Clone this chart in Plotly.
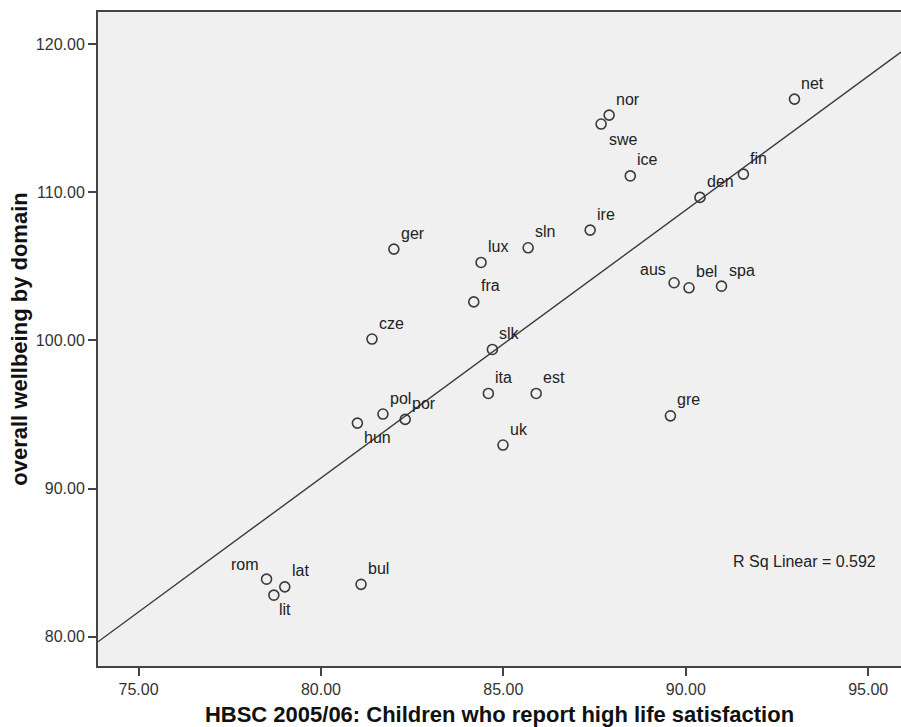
import numpy as np
import plotly.graph_objects as go

# ---- data ----
countries = ["ger", "lux", "sln", "ire", "fra", "swe", "nor", "ice", "den", "fin",
             "net", "aus", "bel", "spa", "cze", "slk", "ita", "est", "pol", "por",
             "hun", "uk", "rom", "lat", "lit", "bul", "gre"]
life_satisfaction = [82.0, 84.39, 85.68, 87.38, 84.19, 87.68, 87.90, 88.48, 90.39, 91.58,
                     92.98, 89.68, 90.09, 90.98, 81.40, 84.70, 84.59, 85.90, 81.70, 82.31,
                     81.0, 84.99, 78.51, 79.01, 78.71, 81.10, 89.58]
wellbeing = [106.16, 105.26, 106.25, 107.44, 102.60, 114.60, 115.20, 111.10, 109.65, 111.22,
             116.28, 103.89, 103.55, 103.66, 100.09, 99.39, 96.42, 96.42, 95.03, 94.67,
             94.42, 92.94, 83.89, 83.37, 82.81, 83.54, 94.91]
r_sq_text = "R Sq Linear = 0.592"
x_title = "HBSC 2005/06: Children who report high life satisfaction"
y_title = "overall wellbeing by domain"

# ---- styling ----
X_RANGE = [73.89, 95.90]
Y_RANGE = [78.03, 122.16]
FONT = "Liberation Sans, Arial, sans-serif"
DARK = "#333333"

# label placement: (xanchor, xshift px, yshift px); default up-right
default_pos = ("left", 5, 16)
label_pos = {
    "swe": ("left", 6, -15),
    "hun": ("left", 5, -14),
    "lit": ("left", 3, -14),
    "rom": ("right", -6, 15),
    "aus": ("right", -6, 13),
}

# least-squares fit line from the data
slope, intercept = np.polyfit(life_satisfaction, wellbeing, 1)
fit_x = np.array(X_RANGE)
fit_y = slope * fit_x + intercept

fig = go.Figure()
fig.add_trace(go.Scatter(
    x=fit_x, y=fit_y, mode="lines",
    line=dict(color="#3a3a3a", width=1.4),
    hoverinfo="skip", showlegend=False,
))
fig.add_trace(go.Scatter(
    x=life_satisfaction, y=wellbeing, mode="markers", text=countries,
    marker=dict(symbol="circle-open", size=10, color="#3a3a3a", line=dict(width=1.6)),
    showlegend=False,
))

annotations = []
for name, xv, yv in zip(countries, life_satisfaction, wellbeing):
    xa, xs, ys = label_pos.get(name, default_pos)
    annotations.append(dict(
        x=xv, y=yv, xref="x", yref="y", text=name, showarrow=False,
        xanchor=xa, yanchor="middle", xshift=xs, yshift=ys,
        font=dict(family=FONT, size=16, color="#222222"),
    ))
annotations.append(dict(
    x=0.788, y=0.160, xref="paper", yref="paper", text=r_sq_text, showarrow=False,
    xanchor="left", yanchor="middle",
    font=dict(family=FONT, size=16, color="#222222"),
))

fig.update_layout(
    width=901, height=727,
    margin=dict(l=98, r=0, t=12, b=61),
    paper_bgcolor="white",
    plot_bgcolor="#F0F0F0",
    font=dict(family=FONT, size=16, color=DARK),
    annotations=annotations,
    showlegend=False,
)
fig.update_xaxes(
    range=X_RANGE, dtick=5, tick0=75, tickformat=".2f",
    showgrid=False, zeroline=False,
    showline=True, linecolor="#444444", linewidth=2, mirror=True,
    ticks="outside", ticklen=8, tickwidth=1.5, tickcolor="#444444",
    tickfont=dict(family=FONT, size=16, color=DARK),
    title=dict(text=x_title, font=dict(family=FONT, size=22, color="#111111", weight="bold"),
               standoff=11),
)
fig.update_yaxes(
    range=Y_RANGE, dtick=10, tick0=80, tickformat=".2f",
    showgrid=False, zeroline=False,
    showline=True, linecolor="#444444", linewidth=2, mirror=False,
    ticks="outside", ticklen=8, tickwidth=1.5, tickcolor="#444444",
    tickfont=dict(family=FONT, size=16, color=DARK),
    title=dict(text=y_title, font=dict(family=FONT, size=22, color="#111111", weight="bold"),
               standoff=2),
)

fig.write_html(
    "out.html",
    config={"displayModeBar": False},
    post_script="document.body.style.margin='0';document.body.style.overflow='hidden';",
)
